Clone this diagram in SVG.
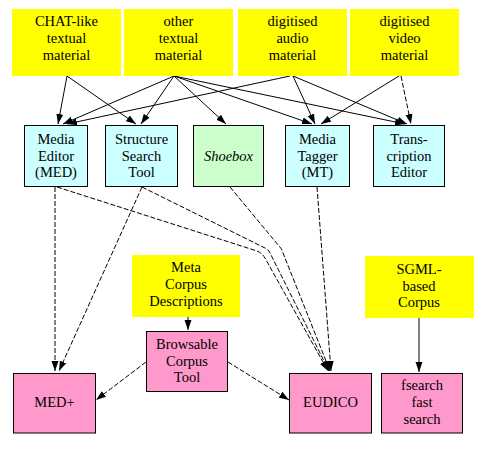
<svg xmlns="http://www.w3.org/2000/svg" width="486" height="450" viewBox="0 0 486 450">
<defs>
<marker id="ah" markerUnits="userSpaceOnUse" markerWidth="10" markerHeight="8" refX="10" refY="4" orient="auto">
<path d="M0,0.5 L10,4 L0,7.5 z" fill="#000"/>
</marker>
<style>
text{font-family:'Liberation Serif','Times New Roman',serif;font-size:14.5px;fill:#000;text-anchor:middle}
.y{fill:#ffff00}
.c{fill:#ccffff;stroke:#000;stroke-width:1}
.g{fill:#ccffcc;stroke:#000;stroke-width:1}
.p{fill:#ff99cc;stroke:#000;stroke-width:1}
.e{fill:none;stroke:#000;stroke-width:1;marker-end:url(#ah)}
.d{stroke-dasharray:5,2}
</style>
</defs>
<rect width="486" height="450" fill="#fff"/>
<g id="edges">
<path class="e" d="M67,76 L58,124"/>
<path class="e" d="M67,76 L136,124"/>
<path class="e" d="M174,76 L63,124"/>
<path class="e" d="M174,76 L141,124"/>
<path class="e" d="M174,76 L226,124"/>
<path class="e" d="M174,76 L312,124"/>
<path class="e" d="M174,76 L405,124"/>
<path class="e" d="M290,76 L67,124"/>
<path class="e" d="M293,76 L315,124"/>
<path class="e" d="M293,76 L407,124"/>
<path class="e" d="M399,76 L321,124"/>
<path class="e d" d="M401,76 L411,124"/>
<path class="e d" d="M55,187 L55,371"/>
<path class="e d" d="M57,187 L257,251 Q262,253 265,258 L328,371"/>
<path class="e d" d="M142,187 L265,248 Q269,250 271,255 L329,371"/>
<path class="e d" d="M230,187 L279,246 Q282,249 283,253 L330,371"/>
<path class="e d" d="M317,187 L331,371"/>
<path class="e d" d="M142,187 L59,371"/>
<path class="e" d="M188,317 L188,330"/>
<path class="e d" d="M146,362 L96,400"/>
<path class="e d" d="M228,362 L289,400"/>
<path class="e" d="M419,318 L419,372"/>
</g>
<g id="chat"><rect class="y" x="12" y="9" width="109" height="67"/><text x="66.5" y="26">CHAT-like</text><text x="66.5" y="43">textual</text><text x="66.5" y="60">material</text></g>
<g id="othertext"><rect class="y" x="124" y="9" width="109" height="67"/><text x="178.5" y="26">other</text><text x="178.5" y="43">textual</text><text x="178.5" y="60">material</text></g>
<g id="audio"><rect class="y" x="238" y="9" width="109" height="67"/><text x="292.5" y="26">digitised</text><text x="292.5" y="43">audio</text><text x="292.5" y="60">material</text></g>
<g id="video"><rect class="y" x="350" y="9" width="109" height="67"/><text x="404.5" y="26">digitised</text><text x="404.5" y="43">video</text><text x="404.5" y="60">material</text></g>
<g id="med"><rect class="c" x="24.5" y="125.5" width="63" height="61"/><text x="56" y="144">Media</text><text x="56" y="160.5">Editor</text><text x="56" y="177">(MED)</text></g>
<g id="sst"><rect class="c" x="105.5" y="125.5" width="72" height="61"/><text x="141.5" y="144">Structure</text><text x="141.5" y="160.5">Search</text><text x="141.5" y="177">Tool</text></g>
<g id="shoebox"><rect class="g" x="193.5" y="125.5" width="70" height="61"/><text x="228.5" y="161" font-style="italic">Shoebox</text></g>
<g id="mt"><rect class="c" x="285.5" y="125.5" width="64" height="61"/><text x="317.5" y="144">Media</text><text x="317.5" y="160.5">Tagger</text><text x="317.5" y="177">(MT)</text></g>
<g id="trans"><rect class="c" x="373.5" y="125.5" width="71" height="61"/><text x="409" y="144">Trans-</text><text x="409" y="160.5">cription</text><text x="409" y="177">Editor</text></g>
<g id="meta"><rect class="y" x="132" y="255" width="108" height="62"/><text x="186" y="272">Meta</text><text x="186" y="289">Corpus</text><text x="186" y="306">Descriptions</text></g>
<g id="sgml"><rect class="y" x="365" y="256" width="109" height="62"/><text x="419" y="274">SGML-</text><text x="419" y="290.5">based</text><text x="419" y="307">Corpus</text></g>
<g id="bct"><rect class="p" x="146.5" y="331.5" width="81" height="60"/><text x="187" y="349">Browsable</text><text x="187" y="365.5">Corpus</text><text x="187" y="382">Tool</text></g>
<g id="medplus"><rect class="p" x="13.5" y="373.5" width="82" height="59.5"/><text x="54.5" y="407">MED+</text></g>
<g id="eudico"><rect class="p" x="289.5" y="373.5" width="82" height="59.5"/><text x="330.5" y="407">EUDICO</text></g>
<g id="fsearch"><rect class="p" x="381.5" y="373.5" width="81" height="59.5"/><text x="422" y="390">fsearch</text><text x="422" y="407">fast</text><text x="422" y="423.5">search</text></g>
</svg>
